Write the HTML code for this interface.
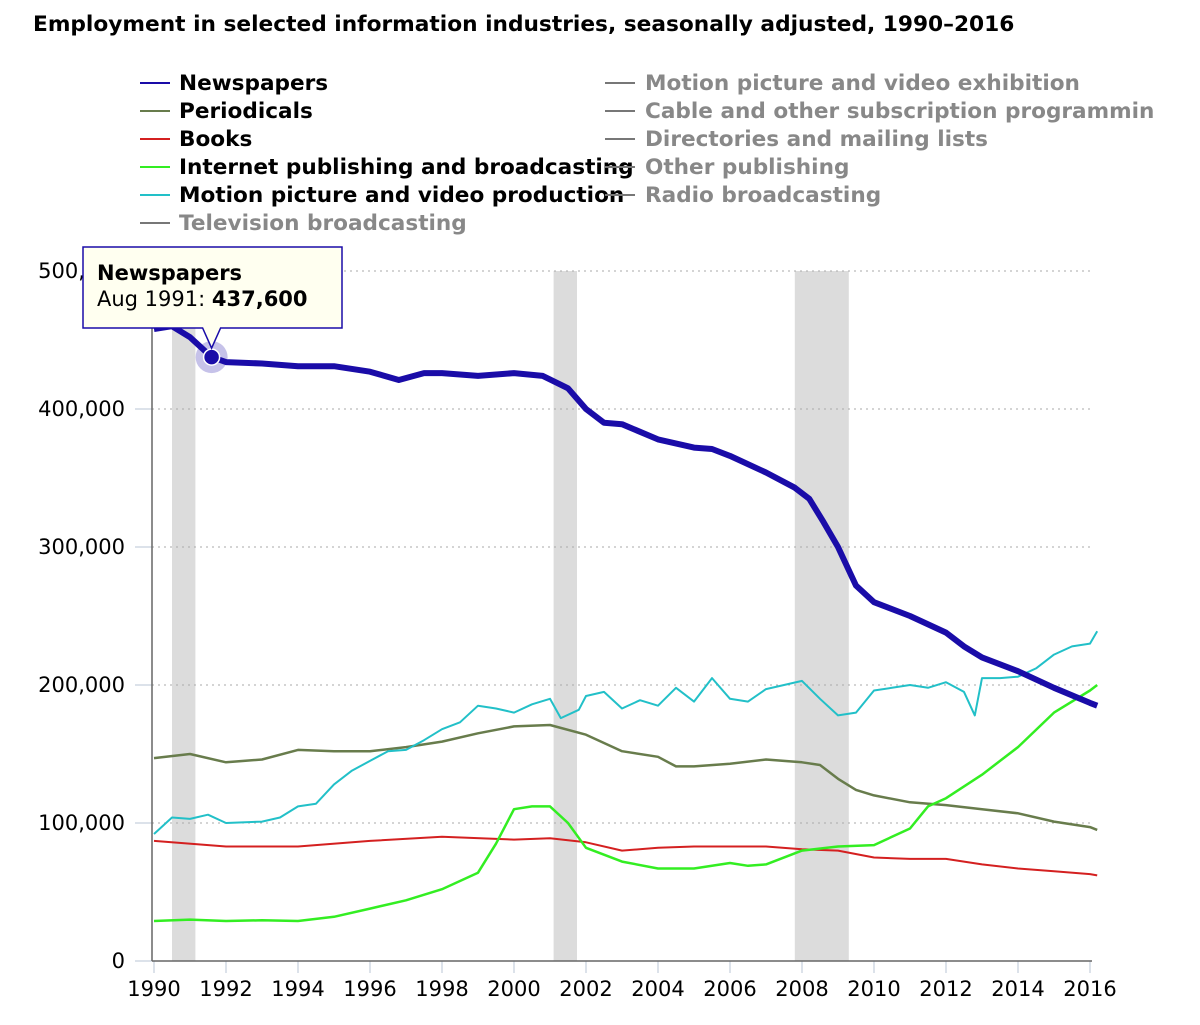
<!DOCTYPE html>
<html><head><meta charset="utf-8"><style>
body{margin:0;background:#fff;font-family:"DejaVu Sans","Liberation Sans",sans-serif;}
svg text{font-family:"DejaVu Sans","Liberation Sans",sans-serif;}
</style></head><body>
<svg width="1200" height="1021" xmlns="http://www.w3.org/2000/svg" id="chart">
<text x="33" y="31" font-size="21.7" font-weight="bold" fill="#000">Employment in selected information industries, seasonally adjusted, 1990–2016</text>
<g id="legend"></g>
<g id="plot"></g>
</svg>
<script>
const years=[1990,1992,1994,1996,1998,2000,2002,2004,2006,2008,2010,2012,2014,2016];
const yTicks=[0,100000,200000,300000,400000,500000];
const yTickLabels=["0","100,000","200,000","300,000","400,000","500,000"];
const recessions=[[1990.5,1991.15],[2001.1,2001.75],[2007.8,2009.3]];
const newsT=[1990,1990.5,1991,1991.6,1992,1993,1994,1995,1996,1996.8,1997.5,1998,1999,2000,2000.8,2001.5,2002,2002.5,2003,2004,2005,2005.5,2006,2007,2007.8,2008.2,2008.6,2009,2009.5,2010,2011,2012,2012.5,2013,2014,2015,2016,2016.2];
const newsV=[458,460,452,437.6,434,433,431,431,427,421,426,426,424,426,424,415,400,390,389,378,372,371,366,354,343,335,318,300,272,260,250,238,228,220,210,198,187,185];
const perT=[1990,1991,1992,1993,1994,1995,1996,1997,1998,1999,2000,2001,2002,2003,2004,2004.5,2005,2006,2007,2008,2008.5,2009,2009.5,2010,2011,2012,2013,2014,2015,2016,2016.2];
const perV=[147,150,144,146,153,152,152,155,159,165,170,171,164,152,148,141,141,143,146,144,142,132,124,120,115,113,110,107,101,97,95];
const bookT=[1990,1992,1994,1996,1998,2000,2001,2002,2003,2004,2005,2006,2007,2008,2009,2010,2011,2012,2013,2014,2015,2016,2016.2];
const bookV=[87,83,83,87,90,88,89,86,80,82,83,83,83,81,80,75,74,74,70,67,65,63,62];
const netT=[1990,1991,1992,1993,1994,1995,1996,1997,1998,1999,1999.5,2000,2000.5,2001,2001.5,2002,2003,2004,2005,2006,2006.5,2007,2008,2009,2010,2011,2011.5,2012,2013,2014,2015,2016,2016.2];
const netV=[29,30,29,29.5,29,32,38,44,52,64,85,110,112,112,100,82,72,67,67,71,69,70,80,83,84,96,112,118,135,155,180,196,200];
const movT=[1990,1990.5,1991,1991.5,1992,1993,1993.5,1994,1994.5,1995,1995.5,1996,1996.5,1997,1997.5,1998,1998.5,1999,1999.5,2000,2000.5,2001,2001.3,2001.8,2002,2002.5,2003,2003.5,2004,2004.5,2005,2005.5,2006,2006.5,2007,2007.5,2008,2008.5,2009,2009.5,2010,2010.5,2011,2011.5,2012,2012.5,2012.8,2013,2013.5,2014,2014.5,2015,2015.5,2016,2016.2];
const movV=[92,104,103,106,100,101,104,112,114,128,138,145,152,153,160,168,173,185,183,180,186,190,176,182,192,195,183,189,185,198,188,205,190,188,197,200,203,190,178,180,196,198,200,198,202,195,178,205,205,206,212,222,228,230,239];
const legendLeft=["Newspapers","Periodicals","Books","Internet publishing and broadcasting","Motion picture and video production","Television broadcasting"];
const legendLeftColors=["#1a0ca8","#687c4c","#d42020","#33ee22","#22c0c8","#777"];
const legendRight=["Motion picture and video exhibition","Cable and other subscription programmin","Directories and mailing lists","Other publishing","Radio broadcasting"];

const NS="http://www.w3.org/2000/svg";
const x=t=>154+(t-1990)*36;
const y=v=>961-v*0.00138;
const plot=document.getElementById('plot');
const legend=document.getElementById('legend');
function mk(tag,attrs,parent){const e=document.createElementNS(NS,tag);for(const k in attrs)e.setAttribute(k,attrs[k]);parent.appendChild(e);return e;}

legendLeft.forEach((n,i)=>{
 const yy=83+i*28;
 const g=mk('g',{},legend);
 
 
 mk('line',{x1:140,x2:170,y1:yy,y2:yy,stroke:legendLeftColors[i],'stroke-width':2},g);
 const t=mk('text',{x:179,y:yy+7,'font-size':21.6,'font-weight':'bold',fill:i==5?'#888':'#000'},g);t.textContent=n;
});
legendRight.forEach((n,i)=>{
 const yy=83+i*28;
 const g=mk('g',{},legend);
 
 
 mk('line',{x1:605,x2:635,y1:yy,y2:yy,stroke:'#777','stroke-width':2},g);
 const t=mk('text',{x:645,y:yy+7,'font-size':21.6,'font-weight':'bold',fill:'#888'},g);t.textContent=n;
});

recessions.forEach(r=>{
 const e=mk('rect',{x:x(r[0]),y:271,width:x(r[1])-x(r[0]),height:690,fill:'#dcdcdc'},plot);
 
 
});
yTicks.forEach((v,i)=>{
 if(v>0){const l=mk('line',{x1:152,x2:1092,y1:y(v),y2:y(v),stroke:'#aaa','stroke-dasharray':'2,4'},plot);
 
 }
 mk('line',{x1:135,x2:152,y1:y(v),y2:y(v),stroke:'#b8c4d4'},plot);
 const t=mk('text',{x:125,y:y(v)+7,'font-size':21,'text-anchor':'end',fill:'#000'},plot);
 t.textContent=yTickLabels[i];
 
 
});
years.forEach(yr=>{
 mk('line',{x1:x(yr),x2:x(yr),y1:961,y2:973,stroke:'#b8c4d4'},plot);
 const t=mk('text',{x:x(yr),y:996,'font-size':21,'text-anchor':'middle',fill:'#000'},plot);
 t.textContent=yr;
 
 
});
mk('line',{x1:152,x2:152,y1:271,y2:961,stroke:'#666','stroke-width':1.5},plot);
mk('line',{x1:152,x2:1092,y1:961,y2:961,stroke:'#666','stroke-width':1.5},plot);

function series(T,V,color,w,name){
 const d=T.map((t,i)=>(i?'L':'M')+x(t).toFixed(1)+','+y(V[i]*1000).toFixed(1)).join('');
 const p=mk('path',{d:d,fill:'none',stroke:color,'stroke-width':w,'stroke-linejoin':'round'},plot);
 
 
}
series(perT,perV,'#687c4c',2.5,'periodicals-line');
series(bookT,bookV,'#d42020',2,'books-line');
series(netT,netV,'#33ee22',2.5,'internet-publishing-line');
series(movT,movV,'#22c0c8',2,'motion-picture-production-line');
series(newsT,newsV,'#1a0ca8',6,'newspapers-line');

const hx=x(1991.6),hy=y(437600);
const halo=mk('circle',{cx:hx,cy:hy,r:16,fill:'#1a0ca8','fill-opacity':0.25},plot);


const dot=mk('circle',{cx:hx,cy:hy,r:8,fill:'#1a0ca8',stroke:'#fff','stroke-width':1.5},plot);


const tg=mk('g',{},plot);


mk('path',{d:`M83,247 H342 V328 H${hx+9} L${hx},${hy-9} L${hx-9},328 H83 Z`,fill:'#fffff0',stroke:'#1a0ca8','stroke-width':1.5},tg);
const t1=mk('text',{x:97,y:280,'font-size':21,'font-weight':'bold',fill:'#000'},tg);t1.textContent='Newspapers';
const t2=mk('text',{x:97,y:306,'font-size':21,fill:'#000'},tg);
t2.innerHTML='Aug 1991: <tspan font-weight="bold">437,600</tspan>';
</script>
</body></html>
